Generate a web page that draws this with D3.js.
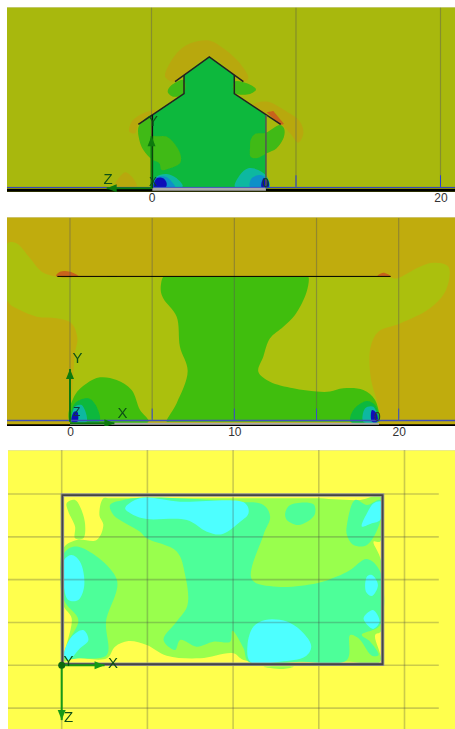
<!DOCTYPE html>
<html>
<head>
<meta charset="utf-8">
<script src="https://d3js.org/d3.v7.min.js"></script>
<style>
  html, body { margin: 0; padding: 0; background: #fff; }
  svg { display: block; }
</style>
</head>
<body>
<div id="chart"></div>
<script>
// Colour bands of the contour plots
const c = {
  olive: "#a8b80a", ochre: "#c0ac0c", tan: "#b8a80c", lime: "#abc00e", green: "#40be0c",
  mid: "#3fba14", bright: "#0db83e", teal: "#10b8a0", blue: "#1090c8", navy: "#1010b8",
  rust: "#c8641a", yellow: "#ffff4d", pale: "#99ff4d", mint: "#4dff99", cyan: "#4dffff"
};

// Section along the ridge (values in model metres)
const roofPlume = [[0.93,7.77],[1.74,9.34],[2.66,10.03],[4.05,10.22],[4.97,9.69],[6.12,8.65],[6.7,7.61],[6.36,7.38],[4,9.09],[1.63,7.38],[1.17,7.5]];
const rightPlume = [[7.05,5.77],[7.97,6],[9.35,5.31],[10.28,4.61],[10.51,3.81],[10.16,3.16],[9.59,3.81],[8.94,4.43]];
const leftPlume = [[-1.53,3.92],[-1.37,4.61],[-0.57,5.19],[0.36,5.42],[0.06,5.08],[-0.91,4.43],[-1.14,3.81]];
const groundPlume = [[-2.53,0.12],[-1.83,1.11],[-1.37,0.81],[-1.03,0.12]];
const eaveHot = [[7.97,5.26],[8.43,5.35],[9.17,4.45],[8.89,4.38]];
const interior = [[0.06,5.08],[2.25,6.55],[2.25,7.84],[4,9.09],[5.73,7.84],[5.73,6.55],[7.92,5.08],[7.92,0],[0.06,0]];
const wallLeft = [[-0.87,4.31],[0.06,5.08],[0.06,3.69],[1.05,3.58],[1.74,2.88],[2.04,2.19],[1.97,1.73],[1.28,1.38],[0.7,1.27],[0.54,1.73],[0.01,2.01],[-0.56,2.65],[-0.84,3.35]];
const wallRight = [[6.82,2.88],[6.86,3.35],[7.16,3.76],[7.92,3.85],[8.89,4.38],[9.17,4.15],[9.17,3.58],[8.66,2.77],[7.97,2.42],[7.28,2.08],[6.86,2.19]];
const underLeft = [[1.12,6.69],[1.4,7.15],[2.25,7.5],[2.25,6.57],[1.51,6.34]];
const underRight = [[5.73,7.38],[6.59,7.27],[7.23,6.85],[6.82,6.53],[5.73,6.62]];
const cornerTealL = [[0.17,0.07],[0.36,0.81],[1.05,0.99],[1.74,0.69],[2.16,0.12]];
const cornerBlueL = [[0.13,0.07],[0.24,0.69],[0.93,0.81],[1.4,0.46],[1.63,0.07]];
const cornerNavyL = [[0.17,0.07],[0.36,0.69],[0.82,0.69],[1.05,0.35],[0.98,0.07]];
const cornerTealR = [[5.78,0.07],[6.12,0.92],[6.7,1.38],[7.39,1.27],[7.97,0.81],[8.16,0.07]];
const cornerBlueR = [[6.82,0.07],[6.93,0.69],[7.51,0.92],[7.92,0.69],[7.92,0.07]];
const cornerNavyR = [[7.62,0.07],[7.74,0.69],[7.92,0.69],[8.11,0.46],[8.09,0.07]];
const roofLine = [[-0.91,4.43],[2.25,6.55],[2.25,7.84]];
const roofLineR = [[8.94,4.43],[5.73,6.55],[5.73,7.84]];
const roofTop = [[1.63,7.38],[4,9.09],[6.36,7.38]];

// Section along the length
const limeBand = [[-3.81,10.85],[-3.24,10.85],[-2.43,9.94],[-1.72,9.13],[-0.81,8.82],[-0.5,8.8],[19.5,8.78],[19.87,8.72],[21.29,9.43],[22.11,9.67],[23.02,9.43],[22.88,8.01],[21.9,6.9],[20.08,5.98],[18.76,5.48],[18.29,4.56],[18.29,2.74],[18.76,0.91],[18.86,0],[18.6,0],[0.1,0],[-0.1,0],[0,0.3],[0.3,4.16],[0.45,5.07],[0.1,5.98],[-0.81,6.29],[-2.03,6.39],[-3.04,6.79],[-3.81,7.36]];
const greenCore = [[5.68,8.82],[5.9,8.82],[14.3,8.82],[14.5,8.82],[14.4,7.91],[13.69,6.49],[12.98,5.78],[12.17,5.07],[11.76,3.95],[11.46,3.04],[12.17,2.43],[13.59,2.03],[15.01,1.83],[15.82,1.83],[16.63,2.03],[17.85,1.93],[18.56,1.32],[18.82,0],[18.6,0],[6.1,0],[5.88,0],[6.49,1.12],[7.16,3.08],[6.69,4.56],[6.49,6.39],[5.68,7.5],[5.52,8.01]];
const hump = [[0,0],[0.3,1.62],[1.01,2.33],[1.83,2.7],[2.84,2.54],[3.75,1.93],[4.26,0.71],[4.77,0]];
const brightL = [[0.1,0],[0.3,1.12],[1.12,1.42],[1.62,0.91],[1.78,0]];
const tealL = [[0.16,0],[0.3,0.91],[0.71,1.01],[1.01,0]];
const navyL = [[0.1,0],[0.24,0.61],[0.45,0.61],[0.45,0]];
const brightR = [[17.08,0],[17.24,0.71],[18.05,1.26],[18.56,1.01],[18.76,0]];
const tealR = [[17.85,0],[17.95,0.81],[18.45,0.91],[18.72,0]];
const navyR = [[18.37,0],[18.37,0.71],[18.66,0.51],[18.7,0]];
const hotL = [[-0.85,8.86],[-0.61,9.13],[0,9.13],[0.51,8.86]];
const hotR = [[18.7,8.86],[19.06,9.07],[19.51,8.86]];
const ridgeLine = [[-0.77,8.84],[19.51,8.84]];

// Plan view
const paleMain = [[0.1,6.83],[0.88,7.32],[2.04,7.32],[2.43,8.19],[2.2,8.78],[2.43,9.75],[2.8,9.75],[14.5,9.75],[14.89,9.75],[17.42,9.65],[18.58,9.85],[18.58,7.22],[18.2,7.22],[18.62,6.15],[18.62,1.97],[18.29,1.77],[18.58,0.21],[16.64,0.21],[13.53,0.21],[10.61,0.31],[10.02,0.7],[8.08,0.41],[6.13,0.56],[4.96,1.19],[3.89,1.42],[3.11,1.09],[2.63,0.41],[0.68,0.41],[0.14,0.25],[0.58,2.74],[0.1,3.52]];
const palePatch = [[0.29,9.46],[0.78,9.65],[1.07,9.26],[1.36,8.29],[1.26,7.41],[0.78,7.41],[0.78,8.1],[0.39,8.97]];
const paleFoot = [[11.77,-0.08],[13.53,-0.08],[12.94,-0.21]];
const mintMain = [[2.82,9.36],[3.6,9.65],[4.96,9.79],[10.02,9.55],[11.77,9.36],[12.16,8.68],[11.77,7.61],[11.09,5.02],[12.55,4.59],[14.89,4.79],[16.05,5.18],[16.83,5.57],[17.81,6.21],[18.58,5.47],[18.58,2.35],[17.51,1.77],[18,1.38],[18.49,0.6],[18.1,0.56],[17.32,1.58],[16.83,1.77],[16.64,0.31],[13.91,0.21],[10.9,0.21],[10.61,0.99],[9.96,2.02],[9.83,1.38],[8.85,1.38],[7.88,1.09],[6.91,1.48],[6.62,0.9],[5.94,1.48],[6.71,2.55],[7.34,3.52],[7.2,5.27],[6.71,6.64],[4.96,7.41],[4.57,7.8],[3.02,8.78]];
const mintLeft = [[0.14,6.54],[0.91,6.93],[3.21,5.02],[2.59,2.55],[2.63,0.6],[1.07,0.41],[0.14,0.41],[0.39,1.38],[0.97,2.65],[0.14,3.81]];
const mintCorner = [[16.64,8.19],[17.12,9.65],[17.81,9.36],[18.58,9.65],[18.58,8.39],[17.81,7.03],[17.03,7.03],[16.64,7.61]];
const mintBlob = [[13.04,8.87],[13.33,9.36],[14.69,9.4],[14.75,8.78],[13.82,8.19],[13.14,8.48]];
const cyanTop = [[3.7,9.17],[4.57,9.75],[6.91,9.55],[10.7,9.46],[10.9,8.87],[10.31,8.29],[9.34,7.65],[8.47,7.8],[7.3,8.48],[4.96,8.54],[4.18,8.78]];
const cyanLeft = [[0.14,6.15],[0.58,6.44],[1.07,6.05],[1.32,4.69],[0.97,3.81],[0.39,3.81],[0.14,4.5]];
const cyanLow = [[0.14,0.6],[0.58,1.67],[1.26,2.06],[1.56,1.48],[1.07,0.99],[0.39,0.31]];
const cyanBottom = [[10.84,1.19],[11.19,2.26],[11.87,2.65],[13.14,2.55],[14.11,1.87],[14.56,1.09],[14.21,0.51],[12.75,0.21],[11,0.21]];
const cyanCorner = [[17.51,8.1],[17.81,8.87],[18.2,9.46],[18.64,9.55],[18.58,8.48],[18.1,8.29]];
const cyanRight = [[17.75,4.3],[17.81,5.18],[18.1,5.27],[18.45,4.69],[18.1,4.05]];
const cyanRight2 = [[17.61,2.74],[18.16,3.23],[18.55,2.55],[18.16,2.12]];
const footprint = [[0.04,0.06],[18.72,0.06],[18.72,9.94],[0.04,9.94]];

// Grid positions and tick labels
const gridTop = [0, 10, 20];
const gridMid = [0, 5, 10, 15, 20];
const gridPlanZ = [-2.5, 0, 2.5, 5, 7.5, 10];
const ticksTop = [0, 20];
const ticksMid = [0, 10, 20];

const width = 455;
const height = 729;

const svg = d3.select("#chart")
  .append("svg")
  .attr("width", width)
  .attr("height", height);

const blur = svg.append("defs").append("filter").attr("id", "soft")
  .attr("x", 0).attr("y", 0).attr("width", 1).attr("height", 1);
blur.append("feGaussianBlur").attr("stdDeviation", 0.5);

const area = d3.line().curve(d3.curveLinearClosed);
const blob = d3.line().curve(d3.curveCatmullRomClosed.alpha(0.5));
const path = d3.line();

function panel(name, box, bg, x, y) {
  svg.select("defs").append("clipPath").attr("id", name)
    .append("rect").attr("x", box[0]).attr("y", box[1])
    .attr("width", box[2] - box[0]).attr("height", box[3] - box[1]);
  const g = svg.append("g").attr("clip-path", `url(#${name})`).append("g").attr("filter", "url(#soft)");
  g.append("rect").attr("x", box[0]).attr("y", box[1])
    .attr("width", box[2] - box[0]).attr("height", box[3] - box[1]).attr("fill", bg);
  g.append("line").attr("x1", box[0]).attr("x2", box[2]).attr("y1", box[1]).attr("y2", box[1])
    .attr("stroke", "#d8d8c8").attr("stroke-width", 1);
  return {
    g, x, y,
    fills(layers) {
      layers.forEach(([pts, col, sharp]) => {
        const gen = sharp ? area : blob;
        g.append("path").attr("d", gen(pts.map(p => [x(p[0]), y(p[1])]))).attr("fill", col);
      });
    },
    stroke(pts, col, w) {
      g.append("path").attr("d", path(pts.map(p => [x(p[0]), y(p[1])])))
        .attr("fill", "none").attr("stroke", col).attr("stroke-width", w);
    },
    label(u, v, t, size, col) {
      g.append("text").attr("x", x(u)).attr("y", y(v)).attr("text-anchor", "middle")
        .attr("dominant-baseline", "middle")
        .attr("font-family", "Liberation Sans, sans-serif").attr("font-size", size || 15)
        .attr("fill", col || "#0d4f17").text(t);
    },
    arrow(a, b, col) {
      const ink = col || "#0a7a10";
      this.stroke([a, b], ink, 2);
      const px = [x(a[0]), y(a[1])], qx = [x(b[0]), y(b[1])];
      const ang = Math.atan2(qx[1] - px[1], qx[0] - px[0]);
      const s = 10, w = 4;
      const head = [qx,
        [qx[0] - s * Math.cos(ang) + w * Math.sin(ang), qx[1] - s * Math.sin(ang) - w * Math.cos(ang)],
        [qx[0] - s * Math.cos(ang) - w * Math.sin(ang), qx[1] - s * Math.sin(ang) + w * Math.cos(ang)]];
      g.append("path").attr("d", area(head)).attr("fill", ink);
    }
  };
}

function bottomTicks(x, yPos, values) {
  svg.append("g")
    .attr("transform", `translate(0, ${yPos})`)
    .call(d3.axisBottom(x).tickValues(values).tickSize(0).tickPadding(0).tickFormat(d3.format("d")))
    .call(a => a.select(".domain").remove())
    .selectAll("text")
    .attr("font-family", "Liberation Sans, sans-serif")
    .attr("font-size", 12)
    .attr("fill", "#333");
}

// --- top panel
const x1 = d3.scaleLinear().domain([0, 20]).range([151.5, 440.5]);
const y1 = d3.scaleLinear().domain([0, 12.5]).range([188.3, 7.7]);
const p1 = panel("clip1", [7, 7, 455, 192], c.olive, x1, y1);
p1.fills([
  [roofPlume, c.tan], [rightPlume, c.tan], [leftPlume, c.tan], [groundPlume, c.tan], [eaveHot, c.rust, true],
  [interior, c.bright, true], [wallLeft, c.mid], [wallRight, c.mid], [underLeft, c.mid], [underRight, c.mid],
  [cornerTealL, c.teal], [cornerBlueL, c.blue], [cornerNavyL, c.navy],
  [cornerTealR, c.teal], [cornerBlueR, c.blue], [cornerNavyR, c.navy]
]);
gridTop.forEach(u => p1.stroke([[u, 0.1], [u, 12.5]], "rgba(90,90,90,0.45)", 1.2));
[10, 20].forEach(u => p1.stroke([[u, 0.1], [u, 0.9]], "#2a3fd0", 1));
p1.stroke([[-10.5, 0.06], [21.5, 0.06]], "#3040c8", 1);
p1.stroke([[-10.5, -0.13], [21.5, -0.13]], "#000", 3);
p1.stroke([[0.06, -0.07], [7.92, -0.07]], "#aaa", 3);
p1.stroke(roofLine, "#222", 1.5);
p1.stroke(roofLineR, "#222", 1.5);
p1.stroke(roofTop, "#222", 1.5);
p1.stroke([[0.06, 5.08], [0.06, 0]], "#111", 1.5);
p1.stroke([[7.92, 5.08], [7.92, 0]], "#555", 1.5);
p1.arrow([0, 0], [0, 3.6]);
p1.arrow([0, 0], [-3.1, 0]);
p1.label(0.1, 4.6, "Y");
p1.label(-3, 0.6, "Z");
p1.label(0.1, 0.4, "X", 12);
p1.label(7.9, 0.3, "0", 12);
bottomTicks(x1, 193, ticksTop);

// --- middle panel
const x2 = d3.scaleLinear().domain([0, 20]).range([70, 398.7]);
const y2 = d3.scaleLinear().domain([0, 12.4]).range([421.7, 217.9]);
const p2 = panel("clip2", [7, 217, 455, 426], c.ochre, x2, y2);
p2.fills([
  [limeBand, c.lime], [greenCore, c.green], [hump, c.green],
  [brightL, c.bright], [tealL, c.teal], [navyL, c.navy],
  [brightR, c.bright], [tealR, c.teal], [navyR, c.navy],
  [hotL, c.rust], [hotR, c.rust]
]);
gridMid.forEach(u => p2.stroke([[u, 0.2], [u, 12.4]], "rgba(90,90,90,0.45)", 1.2));
[5, 10, 15, 20].forEach(u => p2.stroke([[u, 0.1], [u, 0.8]], "#3a50c8", 1));
p2.stroke([[-4, 0.08], [24, 0.08]], "#4050b8", 1.5);
p2.stroke([[-4, -0.22], [24, -0.22]], "#000", 2);
p2.stroke([[0, -0.12], [18.8, -0.12]], "#aaa", 2);
p2.stroke(ridgeLine, "#000", 1);
p2.arrow([0, 0], [0, 3.2]);
p2.arrow([0, -0.1], [2.7, -0.1]);
p2.label(0.45, 3.8, "Y");
p2.label(3.2, 0.45, "X");
p2.label(0.4, 0.55, "Z", 12, "#0a3a40");
p2.label(18.7, 0.25, "0", 12, "#333");
bottomTicks(x2, 427, ticksMid);

// --- plan view
const x3 = d3.scaleLinear().domain([0, 20]).range([61.7, 404.5]);
const y3 = d3.scaleLinear().domain([0, 10]).range([665.3, 494]);
const p3 = panel("clip3", [8, 450, 455, 729], c.yellow, x3, y3);
p3.fills([
  [paleMain, c.pale], [palePatch, c.pale], [paleFoot, c.pale],
  [mintMain, c.mint], [mintLeft, c.mint], [mintCorner, c.mint], [mintBlob, c.mint],
  [cyanTop, c.cyan], [cyanLeft, c.cyan], [cyanLow, c.cyan], [cyanBottom, c.cyan],
  [cyanCorner, c.cyan], [cyanRight, c.cyan], [cyanRight2, c.cyan]
]);
gridMid.forEach(u => p3.stroke([[u, -4], [u, 13]], "rgba(70,70,70,0.28)", 1.6));
gridPlanZ.forEach(v => p3.stroke([[-4, v], [22, v]], "rgba(70,70,70,0.28)", 1.6));
p3.stroke(footprint.concat([footprint[0]]), "#999", 3.5);
p3.stroke(footprint.concat([footprint[0]]), "#444", 1.8);
p3.arrow([0, 0], [2.5, 0], "#169a16");
p3.arrow([0, 0], [0, -3.2], "#169a16");
p3.g.append("circle").attr("cx", x3(0)).attr("cy", y3(0)).attr("r", 3.5).attr("fill", "#0a6a10");
p3.label(0.4, 0.2, "Y");
p3.label(3, 0.1, "X");
p3.label(0.4, -3.1, "Z");
</script>
</body>
</html>
